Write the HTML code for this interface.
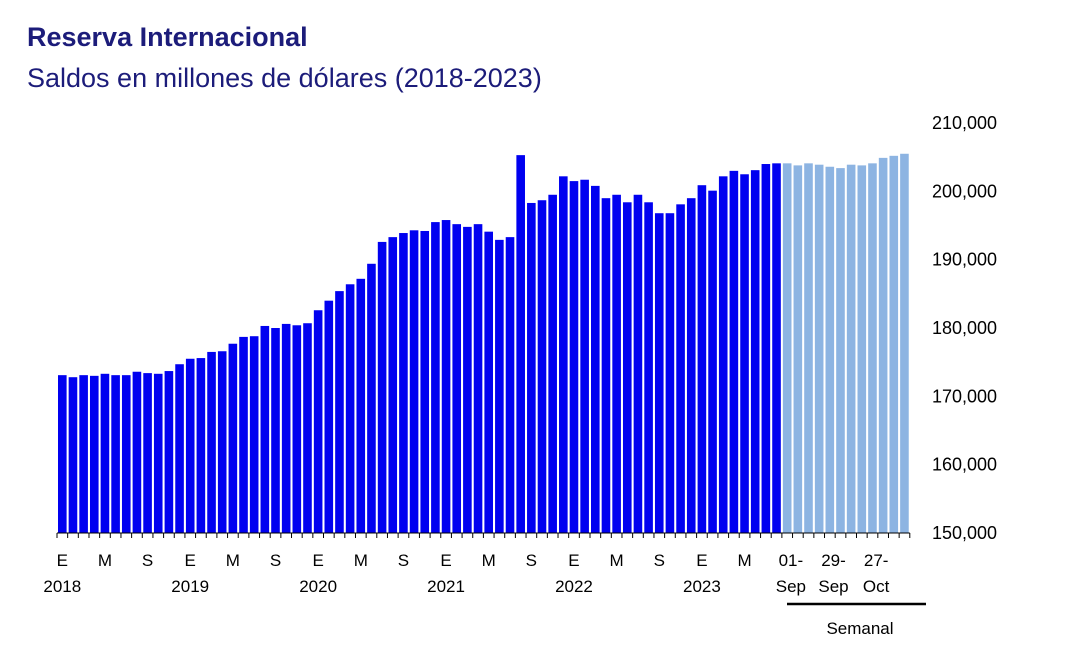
<!DOCTYPE html>
<html><head><meta charset="utf-8"><style>
body{margin:0;background:#fff;font-family:"Liberation Sans",sans-serif;}
#c{position:relative;width:1076px;height:671px;overflow:hidden}
</style></head><body><div id="c">
<svg id="s" width="1076" height="671">
<text x="27" y="46" font-size="27" font-weight="bold" fill="#1c1c7a">Reserva Internacional</text>
<text x="27" y="87" font-size="27" fill="#1c1c7a">Saldos en millones de dólares (2018-2023)</text>
<g id="bars"></g>
<g id="axes"></g>
<line x1="787" y1="604" x2="926" y2="604" stroke="#000" stroke-width="2.5"/>
<text x="860" y="634" font-size="17" text-anchor="middle">Semanal</text>
</svg></div>
<script>
const monthly=[173.1,172.8,173.1,173.0,173.3,173.1,173.1,173.6,173.4,173.3,173.7,174.7,175.5,175.6,176.5,176.6,177.7,178.7,178.8,180.3,180.0,180.6,180.4,180.7,182.6,184.0,185.4,186.4,187.2,189.4,192.6,193.3,193.9,194.3,194.2,195.5,195.8,195.2,194.8,195.2,194.1,192.9,193.3,205.3,198.3,198.7,199.5,202.2,201.5,201.7,200.8,199.0,199.5,198.4,199.5,198.4,196.8,196.8,198.1,199.0,200.9,200.1,202.2,203.0,202.5,203.1,204.0,204.1];
const weekly=[204.1,203.8,204.1,203.9,203.6,203.4,203.9,203.8,204.1,204.9,205.2,205.5];
const yTicks=[150000,160000,170000,180000,190000,200000,210000];
const monthLabels=["E","M","S"];
const years=["2018","2019","2020","2021","2022","2023"];
const weekLabels=[["01-","Sep"],["29-","Sep"],["27-","Oct"]];
const NS="http://www.w3.org/2000/svg";
const x0=57,pitch=10.66,bw=8.6,yBase=533,pxPer=6.833;
const y=v=>yBase-(v-150)*pxPer;
const X=i=>x0+i*pitch;
const bars=document.getElementById('bars'),axes=document.getElementById('axes');
function mk(t,a,p){const e=document.createElementNS(NS,t);for(const k in a)e.setAttribute(k,a[k]);p.appendChild(e);return e;}
const all=monthly.concat(weekly);
all.forEach((v,i)=>{
 const r=mk('rect',{x:X(i)+1,y:y(v),width:bw,height:yBase-y(v),fill:i<monthly.length?'#0000f0':'#8db4e2'},bars);
 
 
});
const xEnd=X(all.length);
const ax=mk('line',{x1:x0,y1:yBase,x2:xEnd,y2:yBase,stroke:'#000','stroke-width':1},axes);


for(let i=0;i<=all.length;i++){const t=mk('line',{x1:X(i),y1:yBase,x2:X(i),y2:yBase+5,stroke:'#000','stroke-width':1},axes);
 
 }
yTicks.forEach(v=>{const t=mk('text',{x:932,y:y(v/1000)+6,'font-size':18},axes);t.textContent=v.toLocaleString('en-US');
 
 });
for(let i=0;i<monthly.length;i+=4){const t=mk('text',{x:X(i)+5.3,y:566,'font-size':17,'text-anchor':'middle'},axes);t.textContent=monthLabels[(i/4)%3];
 
 }
years.forEach((yr,k)=>{const t=mk('text',{x:X(k*12)+5.3,y:592,'font-size':17,'text-anchor':'middle'},axes);t.textContent=yr;
 
 });
weekLabels.forEach((w,k)=>{const cx=X(monthly.length+k*4)+9;
 const a=mk('text',{x:cx,y:566,'font-size':17,'text-anchor':'middle'},axes);a.textContent=w[0];
 
 
 const b=mk('text',{x:cx,y:592,'font-size':17,'text-anchor':'middle'},axes);b.textContent=w[1];
 
 });
</script></body></html>
